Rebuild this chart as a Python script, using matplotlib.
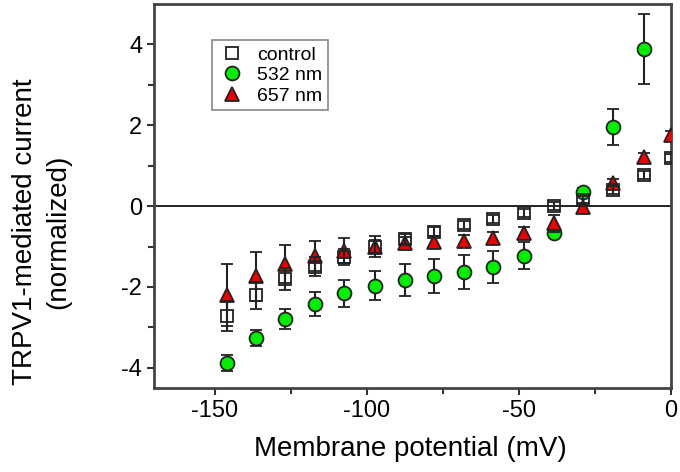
import matplotlib.pyplot as plt
from matplotlib.lines import Line2D

plt.rcParams['font.family'] = ['Liberation Sans', 'DejaVu Sans']
plt.rcParams['axes.unicode_minus'] = False

# membrane potential (mV)
x_ctrl = [-146, -136.5, -127, -117, -107.5, -97.5, -87.5, -78, -68, -58.5, -48.5, -38.5, -29, -19, -9, 0]
y_ctrl = [-2.73, -2.21, -1.80, -1.50, -1.25, -1.00, -0.81, -0.63, -0.47, -0.32, -0.16, 0.0, 0.15, 0.40, 0.77, 1.18]
e_ctrl = [0.37, 0.34, 0.27, 0.23, 0.20, 0.15, 0.12, 0.12, 0.10, 0.10, 0.10, 0.10, 0.10, 0.10, 0.10, 0.10]

x_532 = [-146, -136.5, -127, -117, -107.5, -97.5, -87.5, -78, -68, -58.5, -48.5, -38.5, -29, -19, -9]
y_532 = [-3.89, -3.27, -2.79, -2.43, -2.16, -1.97, -1.83, -1.73, -1.64, -1.50, -1.23, -0.67, 0.35, 1.96, 3.89]
e_532 = [0.20, 0.20, 0.25, 0.30, 0.33, 0.36, 0.40, 0.41, 0.42, 0.40, 0.33, 0.10, 0.10, 0.44, 0.86]

x_657 = [-146, -136.5, -127, -117, -107.5, -97.5, -87.5, -78, -68, -58.5, -48.5, -38.5, -29, -19, -9, 0]
y_657 = [-2.20, -1.74, -1.43, -1.23, -1.10, -1.00, -0.92, -0.88, -0.86, -0.80, -0.67, -0.43, -0.02, 0.56, 1.22, 1.75]
e_657 = [0.77, 0.60, 0.47, 0.37, 0.32, 0.26, 0.15, 0.15, 0.15, 0.15, 0.15, 0.20, 0.10, 0.10, 0.10, 0.10]

fig = plt.figure(figsize=(6.8, 4.72), dpi=100)
ax = fig.add_axes((0.2265, 0.178, 0.7603, 0.8135))

ax.axhline(0, color='black', lw=1.2, zorder=1)

eb = dict(ecolor='#222222', elinewidth=1.5, capsize=4, capthick=1.5, markeredgecolor='#222222',
          markeredgewidth=1.3, ms=10, ls='none')
ax.errorbar(x_532, y_532, yerr=e_532, fmt='o', mfc='#00ee00', zorder=3, **eb)
ax.errorbar(x_657, y_657, yerr=e_657, fmt='^', mfc='#ee0000', zorder=4, **eb)
ax.errorbar(x_ctrl, y_ctrl, yerr=e_ctrl, fmt='s', mfc='none', zorder=5, **{**eb, 'ms': 9})

ax.set_xlim(-170, 0)
ax.set_ylim(-4.5, 5)
ax.set_xticks([-150, -100, -50, 0])
ax.set_xticks([-125, -75, -25], minor=True)
ax.set_yticks([-4, -2, 0, 2, 4])
ax.set_yticks([-3, -1, 1, 3], minor=True)
ax.tick_params(which='both', direction='out', labelsize=17, width=1.5, color='#333333')
ax.tick_params(which='major', length=5)
ax.tick_params(which='minor', length=4)
for s in ax.spines.values():
    s.set_linewidth(2)
    s.set_color('#444444')

ax.set_xlabel('Membrane potential (mV)', fontsize=20)
ax.xaxis.set_label_coords(0.495, -0.125)
ax.set_ylabel('TRPV1-mediated current\n(normalized)', fontsize=20, linespacing=1.35)
ax.yaxis.set_label_coords(-0.16, 0.406)

handles = [
    Line2D([], [], marker='s', ls='none', mfc='none', mec='#222222', mew=1.3, ms=9),
    Line2D([], [], marker='o', ls='none', mfc='#00ee00', mec='#222222', mew=1.3, ms=10),
    Line2D([], [], marker='^', ls='none', mfc='#ee0000', mec='#222222', mew=1.3, ms=10),
]
labels = ['control', '532 nm', '657 nm']
leg = ax.legend(handles, labels, loc='upper left', bbox_to_anchor=(0.112, 0.906),
                borderaxespad=0, fontsize=14, fancybox=False, edgecolor='#888888',
                framealpha=1, handletextpad=0.5, borderpad=0.3, labelspacing=0.15,
                handlelength=1.5)
leg.get_frame().set_linewidth(1.2)

fig.savefig('out.png', dpi=100)
